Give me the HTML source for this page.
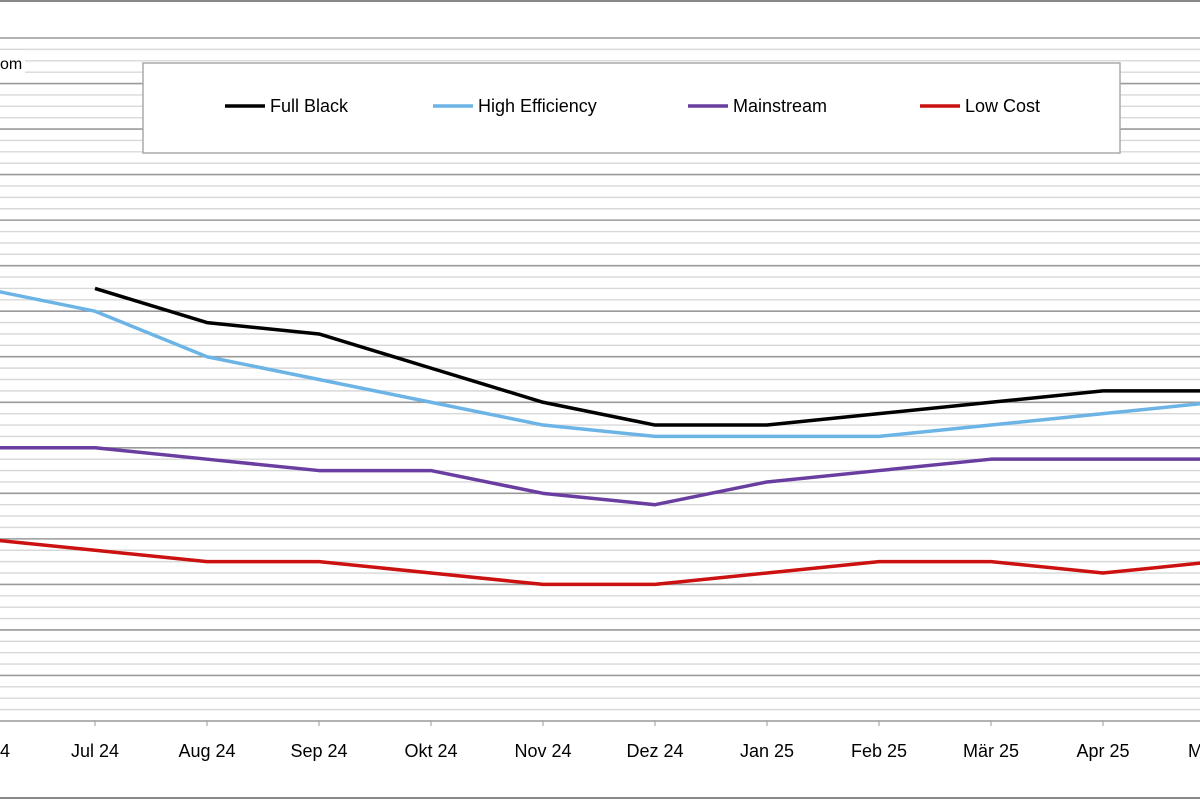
<!DOCTYPE html>
<html><head><meta charset="utf-8"><style>
html,body{margin:0;padding:0;background:#fff;}
svg{display:block;font-family:"Liberation Sans",sans-serif;}
</style></head><body>
<svg id="chart" width="1200" height="800" viewBox="0 0 1200 800" xmlns="http://www.w3.org/2000/svg">
<rect x="0" y="0" width="1200" height="800" fill="#fff"/>
<line x1="0" y1="1" x2="1200" y2="1" stroke="#888" stroke-width="2"/>
<line x1="0" y1="798" x2="1200" y2="798" stroke="#888" stroke-width="2"/>
<g id="grid"></g>
<g id="xaxis"></g>
<g id="series"></g>
<rect x="0" y="50" width="25" height="26" fill="#fff"/>
<text x="0" y="69" font-size="16" fill="#000">om</text>
<g>
<rect x="143" y="63" width="977" height="90" fill="#fff" stroke="#aaa" stroke-width="1.5"/>
<g><line x1="225" y1="106" x2="265" y2="106" stroke="#000" stroke-width="3.5"/><text x="270" y="112" font-size="18">Full Black</text></g>
<g><line x1="433" y1="106" x2="473" y2="106" stroke="#6cb4e6" stroke-width="3.5"/><text x="478" y="112" font-size="18">High Efficiency</text></g>
<g><line x1="688" y1="106" x2="728" y2="106" stroke="#6a3ea1" stroke-width="3.5"/><text x="733" y="112" font-size="18">Mainstream</text></g>
<g><line x1="920" y1="106" x2="960" y2="106" stroke="#cc1111" stroke-width="3.5"/><text x="965" y="112" font-size="18">Low Cost</text></g>
</g>
</svg>
<script>
const categories = ["Jun 24","Jul 24","Aug 24","Sep 24","Okt 24","Nov 24","Dez 24","Jan 25","Feb 25","Mär 25","Apr 25","Mai 25"];
const fullBlack = [null,38,35,34,31,28,26,26,27,28,29,29];
const highEfficiency = [38,36,32,30,28,26,25,25,25,26,27,28];
const mainstream = [24,24,23,22,22,20,19,21,22,23,23,23];
const lowCost = [16,15,14,14,13,12,12,13,14,14,13,14];
const yMax = 60;

const NS="http://www.w3.org/2000/svg";
const x0=-17, xStep=112, yBase=721, yTop=38;
function xPos(i){return x0+i*xStep;}
function yPos(v){return yBase-(v/yMax)*(yBase-yTop);}
function mk(tag,attrs,parent){const e=document.createElementNS(NS,tag);for(const k in attrs)e.setAttribute(k,attrs[k]);parent.appendChild(e);return e;}

const grid=document.getElementById('grid');
for(let v=1;v<=yMax;v++){
  const major=v%4===0;
  const l=mk('line',{x1:0,x2:1200,y1:yPos(v),y2:yPos(v),stroke:major?'#9a9a9a':'#d8d8d8','stroke-width':major?1.6:1.4},grid);
  
  
}
const xa=document.getElementById('xaxis');
const ax=mk('line',{x1:0,x2:1200,y1:yBase,y2:yBase,stroke:'#999','stroke-width':1.6},xa);


categories.forEach((c,i)=>{
  const t=mk('line',{x1:xPos(i),x2:xPos(i),y1:yBase,y2:yBase+5,stroke:'#999','stroke-width':1},xa);
  
  
  const tx=mk('text',{x:xPos(i),y:757,'font-size':18,'text-anchor':'middle',fill:'#000'},xa);
  tx.textContent=c;
  
  
});
const sg=document.getElementById('series');
function drawSeries(arr,color,name){
  let d='';let started=false;
  arr.forEach((v,i)=>{if(v==null)return;d+=(started?'L':'M')+xPos(i)+','+yPos(v)+' ';started=true;});
  const p=mk('path',{d:d,fill:'none',stroke:color,'stroke-width':3.5,'stroke-linejoin':'round'},sg);
  
  
}
drawSeries(lowCost,'#cc1111','line-low-cost');
drawSeries(mainstream,'#6a3ea1','line-mainstream');
drawSeries(highEfficiency,'#6cb4e6','line-high-efficiency');
drawSeries(fullBlack,'#000','line-full-black');
</script>
</body></html>
